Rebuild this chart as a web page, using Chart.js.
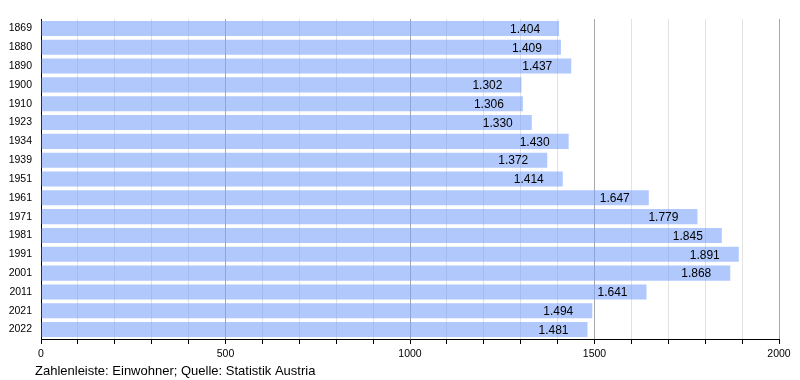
<!DOCTYPE html>
<html><head><meta charset="utf-8">
<script src="https://cdn.jsdelivr.net/npm/chart.js@4"></script>
<style>html,body{margin:0;padding:0;background:#fff}#wrap{width:800px;height:380px}</style>
</head><body><div id="wrap"><canvas id="c" width="800" height="380"></canvas></div>
<script>
const years = ['1869','1880','1890','1900','1910','1923','1934','1939','1951','1961','1971','1981','1991','2001','2011','2021','2022'];
const population = [1404,1409,1437,1302,1306,1330,1430,1372,1414,1647,1779,1845,1891,1868,1641,1494,1481];
const caption = 'Zahlenleiste: Einwohner; Quelle: Statistik Austria';
const FONT = '"Liberation Sans", Arial, sans-serif';

function fmt(v){ const s=String(v); return s.length>3 ? s.slice(0,s.length-3)+'.'+s.slice(-3) : s; }

const labelPlugin = {
  id:'labels',
  afterDatasetsDraw(chart){
    const ctx=chart.ctx; const meta=chart.getDatasetMeta(0);
    ctx.save(); ctx.font='12px '+FONT; ctx.fillStyle='#000'; ctx.textAlign='right'; ctx.textBaseline='middle';
    meta.data.forEach((bar,i)=>{ ctx.fillText(fmt(population[i]), bar.x-19, bar.y+1); });
    ctx.font='13px '+FONT; ctx.textAlign='left';
    ctx.fillText(caption, 35, 371);
    ctx.restore();
  }
};

new Chart(document.getElementById('c'),{
  type:'bar',
  data:{labels:years,datasets:[{data:population,backgroundColor:'rgba(123,163,250,0.6)',borderWidth:0,barPercentage:0.8,categoryPercentage:1}]},
  options:{
    indexAxis:'y',responsive:false,animation:false,
    layout:{padding:{left:0,right:21,top:19,bottom:0}},
    plugins:{legend:{display:false},tooltip:{enabled:false}},
    scales:{
      x:{min:0,max:2000,
        afterFit(s){s.height=41;},
        ticks:{stepSize:100,autoSkip:false,maxRotation:0,padding:4,color:'#000',font:{family:FONT,size:10.5},
          callback(v){return v%500===0?String(v):'';}},
        grid:{color(c){return c.tick&&c.tick.value%500===0?'#a8a8a8':'#e2e2e2';},lineWidth:1,tickLength:5,tickColor:'#000',drawOnChartArea:true},
        border:{display:true,color:'#000',width:1}
      },
      y:{
        afterFit(s){s.width=41;},
        ticks:{color:'#000',padding:9,font:{family:FONT,size:10.5}},
        grid:{display:false,drawTicks:false},
        border:{display:true,color:'#000',width:1}
      }
    }
  },
  plugins:[labelPlugin]
});
</script></body></html>
